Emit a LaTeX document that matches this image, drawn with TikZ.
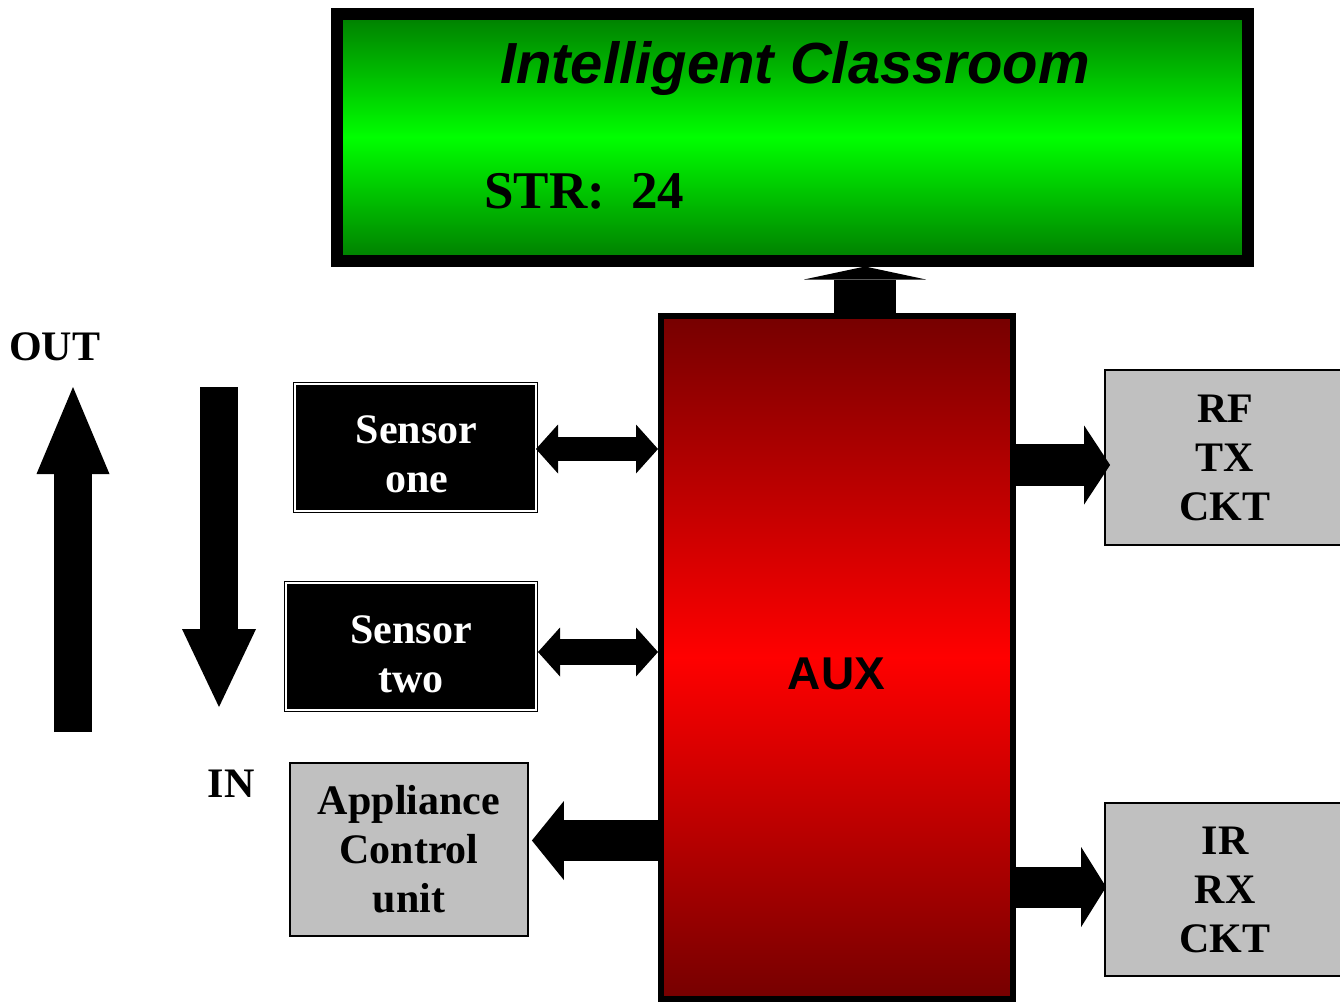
\documentclass[tikz,border=0pt]{standalone}
\usepackage{fontspec}
\setmainfont{Liberation Serif}
\setsansfont{Liberation Sans}
\usetikzlibrary{arrows.meta,calc}
\definecolor{dkgreen}{RGB}{0,125,0}
\definecolor{ltgreen}{RGB}{0,255,0}
\definecolor{dkred}{RGB}{118,0,0}
\definecolor{ltred}{RGB}{255,0,0}
\definecolor{boxgray}{RGB}{192,192,192}
\tikzset{
  blk/.style={inner sep=0pt, anchor=center},
  sensorbox/.style={blk, fill=black, draw=black, double=white, double distance=1.6pt,
    line width=1.2pt, outer sep=2pt},
  sensortext/.style={text=white, inner sep=0pt,
    font=\bfseries\fontsize{42}{49}\selectfont, align=center},
  graybox/.style={blk, fill=boxgray, draw=black, line width=1.8pt, outer sep=0.9pt,
    font=\bfseries\fontsize{42}{49}\selectfont, align=center},
  lbl/.style={inner sep=0pt, font=\bfseries\fontsize{42}{48}\selectfont},
  fatarrow/.style n args={3}{line width=#1,
    -{Triangle[width=#2, length=#3, line width=0pt]}},
  dblarrow/.style n args={3}{line width=#1,
    {Triangle[width=#2, length=#3, line width=0pt]}-{Triangle[width=#2, length=#3, line width=0pt]}},
}
\begin{document}
\begin{tikzpicture}[x=1pt,y=-1pt]
\useasboundingbox (0,0) rectangle (1340,1001);

% display
\node[blk, draw=black, line width=12pt, outer sep=6pt,
      minimum width=911pt, minimum height=246.5pt,
      top color=dkgreen, bottom color=dkgreen, middle color=ltgreen] (disp) at (792.5,137.25) {};
\node[inner sep=0pt, anchor=base, font=\sffamily\bfseries\itshape\fontsize{58}{64}\selectfont] (ttl) at (795,83) {Intelligent Classroom};
\node[inner sep=0pt, anchor=base west, font=\bfseries\fontsize{53}{60}\selectfont] (str) at (484,208) {STR:\ \ 24};

% AUX
\node[blk, draw=black, line width=6pt, outer sep=3pt,
      minimum width=352pt, minimum height=682.5pt,
      top color=dkred, bottom color=dkred, middle color=ltred] (aux) at (837,657.25) {};
\node[font=\sffamily\bfseries\fontsize{46}{50}\selectfont] (auxt) at (836.5,674) {AUX};

% boxes
\node[sensorbox, minimum width=241pt, minimum height=127pt] (s1) at (415.5,447.5) {};
\node[sensortext] (s1t) at ($(s1.center)+(1,7)$) {Sensor\\one};
\node[sensorbox, minimum width=250pt, minimum height=127pt] (s2) at (411,646.5) {};
\node[sensortext] (s2t) at ($(s2.center)+(0,8)$) {Sensor\\two};
\node[graybox, minimum width=238pt, minimum height=173pt] (app) at (409,849.5) {Appliance\\Control\\unit};
\node[graybox, minimum width=240pt, minimum height=175pt] (rf) at (1225,457.5) {RF\\TX\\CKT};
\node[graybox, minimum width=240pt, minimum height=173pt] (ir) at (1225,889.5) {IR\\RX\\CKT};

% labels
\node[lbl, anchor=base west] (out) at (9,360) {OUT};
\node[lbl, anchor=base] (in) at (231,797) {IN};

% free arrows
\coordinate (outbot) at (73,732);
\coordinate (outtop) at (73,387);
\draw[fatarrow={38pt}{73pt}{87pt}] (outbot) -- (outtop);
\coordinate (intop) at (219,387);
\coordinate (inbot) at (219,707);
\draw[fatarrow={38pt}{74pt}{78pt}] (intop) -- (inbot);

% connectors
\coordinate (upbase) at ($(aux.north)+(28,0)$);
\draw[fatarrow={62pt}{122pt}{13pt}] (upbase) -- (upbase |- disp.south);

\coordinate (s1a) at ($(s1.east)+(-2,1.5)$);
\draw[dblarrow={24pt}{49pt}{22pt}] (s1a) -- (s1a -| aux.west);
\coordinate (s2a) at ($(s2.east)+(0,5.5)$);
\draw[dblarrow={26pt}{49pt}{22pt}] (s2a) -- (s2a -| aux.west);

\coordinate (appa) at ($(app.east)+(3,-9)$);
\draw[fatarrow={41pt}{79pt}{32pt}] (appa -| aux.west) -- (appa);

\coordinate (rfa) at ($(rf.west)+(6,7.5)$);
\draw[fatarrow={42pt}{79pt}{26pt}] (rfa -| aux.east) -- (rfa);

\coordinate (ira) at ($(ir.west)+(2,-2.5)$);
\draw[fatarrow={41pt}{80pt}{25pt}] (ira -| aux.east) -- (ira);
\end{tikzpicture}
\end{document}
